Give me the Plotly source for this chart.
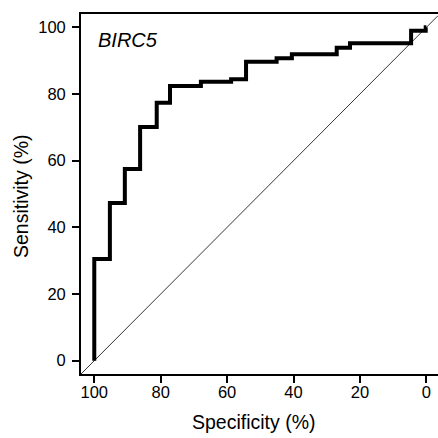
import plotly.graph_objects as go

# ROC step curve corners (specificity %, sensitivity %)
specificity = [100, 95.3, 90.8, 86.2, 81.2, 77.2, 67.9, 58.8, 54.3, 45.1, 40.5, 27.0, 23.0, 4.6, 0.2, 0.0]
sensitivity = [0, 30.5, 47.3, 57.5, 70.1, 77.4, 82.4, 83.7, 84.4, 89.7, 90.7, 91.9, 93.9, 95.2, 99.0, 100]
tick_vals = [0, 20, 40, 60, 80, 100]
marker_label = "BIRC5"
x_title = "Specificity (%)"
y_title = "Sensitivity (%)"

x_range = [104, -3.5]
y_range = [-4, 104]

W, H = 438, 438
L, T, PW, PH = 81, 14, 357, 360

fig = go.Figure()
# reference diagonal across the whole plot
fig.add_trace(go.Scatter(
    x=[x_range[0], x_range[1]],
    y=[100 - x_range[0], 100 - x_range[1]],
    mode="lines", line=dict(color="black", width=0.8), hoverinfo="skip", showlegend=False,
))
fig.add_trace(go.Scatter(
    x=specificity, y=sensitivity, mode="lines",
    line=dict(color="black", width=4, shape="vh"), showlegend=False,
))

font_family = "Liberation Sans, Arial, sans-serif"
fig.add_annotation(x=99.6, y=96.3, xref="x", yref="y", text="<i>" + marker_label + "</i>",
                   showarrow=False, xanchor="left", yanchor="middle",
                   font=dict(size=20, color="black", family=font_family))
# axis titles (positions given in page pixels, converted to paper coords)
fig.add_annotation(x=(254 - L) / PW, y=(T + PH - 422) / PH, xref="paper", yref="paper",
                   text=x_title, showarrow=False, xanchor="center", yanchor="middle",
                   font=dict(size=19.5, color="black", family=font_family))
fig.add_annotation(x=(21 - L) / PW, y=(T + PH - 196) / PH, xref="paper", yref="paper",
                   text=y_title, showarrow=False, xanchor="center", yanchor="middle", textangle=-90,
                   font=dict(size=19.5, color="black", family=font_family))

fig.update_layout(
    width=W, height=H,
    margin=dict(l=L, r=W - L - PW, t=T, b=H - T - PH),
    paper_bgcolor="white", plot_bgcolor="white",
    font=dict(family=font_family, color="black", size=16),
    xaxis=dict(range=x_range, tickvals=tick_vals, ticks="outside", ticklen=7, tickwidth=1.5,
               tickcolor="black", showline=True, linecolor="black", linewidth=1.8, mirror=True,
               showgrid=False, zeroline=False, tickfont=dict(size=16.5), automargin=False,
               ticklabeloverflow="allow", ticklabelstandoff=-5),
    yaxis=dict(range=y_range, tickvals=tick_vals, ticks="outside", ticklen=7, tickwidth=1.5,
               tickcolor="black", showline=True, linecolor="black", linewidth=1.8, mirror=False,
               showgrid=False, zeroline=False, tickfont=dict(size=16.5), automargin=False,
               ticklabelstandoff=3),
)

fig.write_html("out.html", config={"displayModeBar": False},
               post_script="document.body.style.margin='0';document.body.style.overflow='hidden';")
